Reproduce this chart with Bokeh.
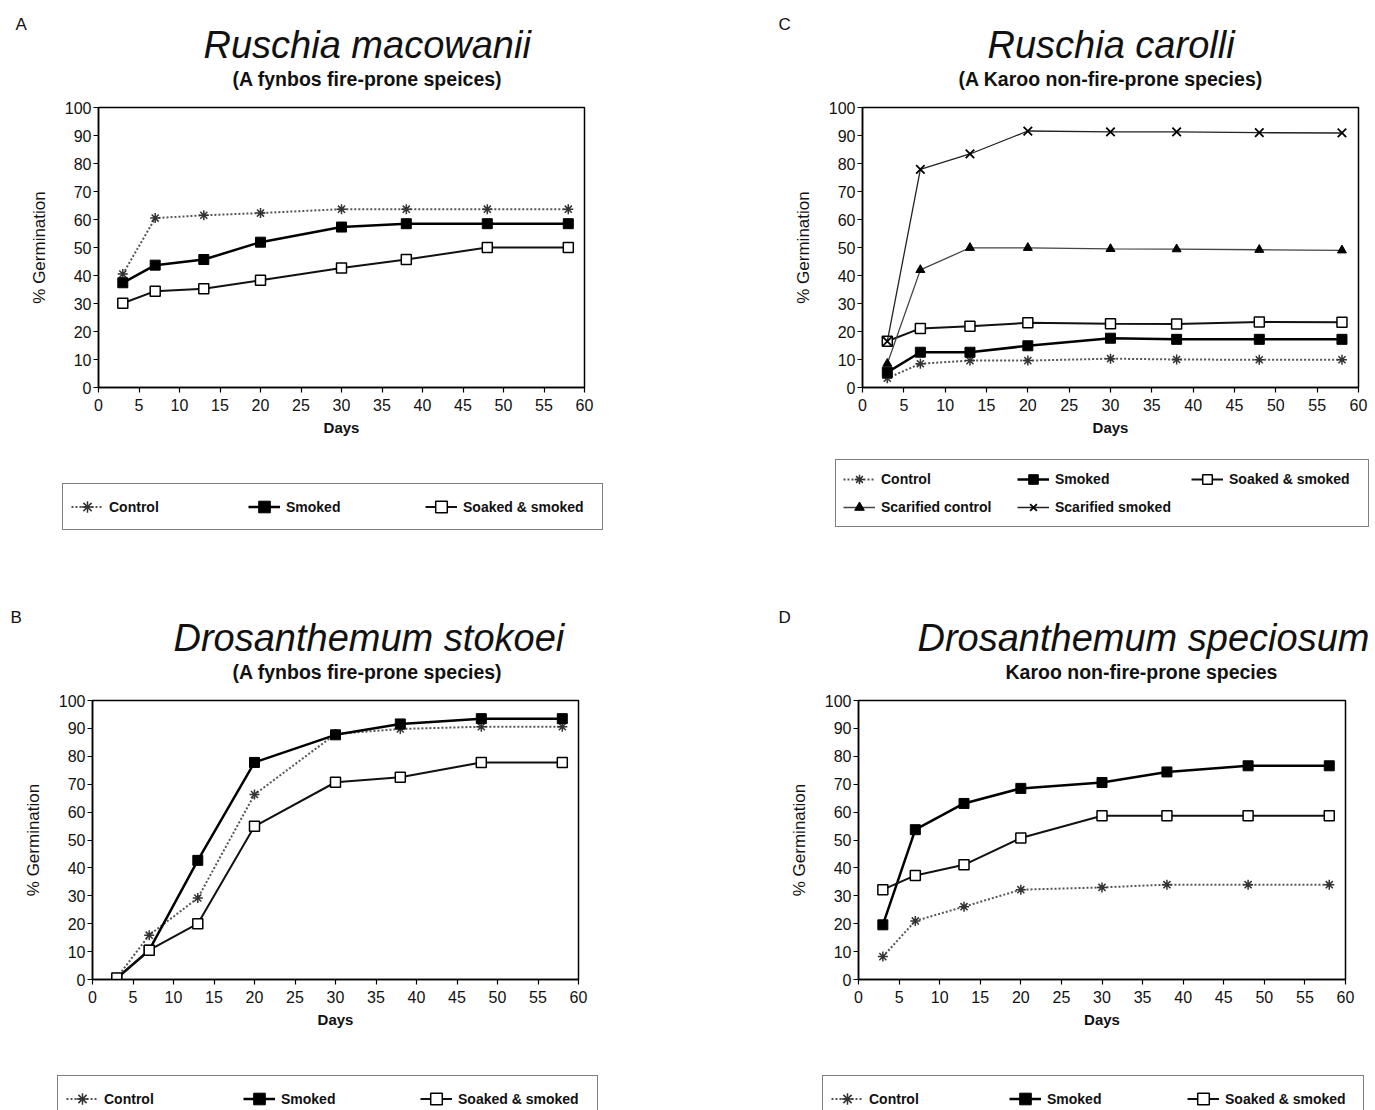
from bokeh.plotting import figure
from bokeh.models import Range1d, FixedTicker, Title, Legend, LegendItem
from bokeh.layouts import column, row
from bokeh.embed import file_html
from bokeh.resources import INLINE

days = [3, 7, 13, 20, 30, 38, 48, 58]

# Panel A - Ruschia macowanii
a_control = [40.5, 60.5, 61.5, 62.3, 63.7, 63.7, 63.7, 63.7]
a_smoked = [37.4, 43.7, 45.7, 51.9, 57.3, 58.5, 58.5, 58.5]
a_soaked = [30.1, 34.4, 35.3, 38.3, 42.7, 45.7, 50.0, 50.0]

# Panel C - Ruschia carolli
c_control = [3.3, 8.5, 9.6, 9.6, 10.3, 10.0, 9.9, 9.9]
c_smoked = [5.4, 12.6, 12.6, 14.9, 17.6, 17.2, 17.2, 17.2]
c_soaked = [16.5, 21.1, 21.9, 23.1, 22.8, 22.7, 23.4, 23.3]
c_scar_control = [8.5, 42.0, 49.9, 49.9, 49.5, 49.4, 49.2, 49.0]
c_scar_smoked = [16.5, 77.9, 83.4, 91.6, 91.3, 91.3, 91.0, 90.9]

# Panel B - Drosanthemum stokoei
b_control = [0.6, 15.9, 29.2, 66.3, 88.0, 89.8, 90.6, 90.6]
b_smoked = [0.4, 10.5, 42.7, 77.8, 87.7, 91.6, 93.5, 93.5]
b_soaked = [0.5, 10.5, 20.0, 54.9, 70.7, 72.5, 77.8, 77.8]

# Panel D - Drosanthemum speciosum
d_control = [8.2, 21.0, 26.1, 32.2, 33.0, 34.0, 34.0, 34.0]
d_smoked = [19.6, 53.7, 63.1, 68.5, 70.6, 74.4, 76.6, 76.6]
d_soaked = [32.2, 37.3, 41.1, 50.7, 58.7, 58.7, 58.7, 58.7]

x_ticks = [0, 5, 10, 15, 20, 25, 30, 35, 40, 45, 50, 55, 60]
y_ticks = [0, 10, 20, 30, 40, 50, 60, 70, 80, 90, 100]

FONT = "Liberation Sans"

STYLES = {
    "Control": dict(line=dict(line_color="#555555", line_width=2, line_dash="2 2"),
                    marker=dict(marker="asterisk", size=10, line_color="#333333", line_width=1.5)),
    "Smoked": dict(line=dict(line_color="black", line_width=2.5),
                   marker=dict(marker="square", size=10, fill_color="black", line_color="black", line_width=1)),
    "Soaked & smoked": dict(line=dict(line_color="#111111", line_width=2),
                            marker=dict(marker="square", size=10, fill_color="white", line_color="black", line_width=1.5)),
    "Scarified control": dict(line=dict(line_color="#444444", line_width=1.3),
                              marker=dict(marker="triangle", size=9, fill_color="black", line_color="black", line_width=1)),
    "Scarified smoked": dict(line=dict(line_color="#222222", line_width=1.3),
                             marker=dict(marker="x", size=12, line_color="black", line_width=1.8)),
}


def make_chart(letter, species, subtitle, series, width, height, bl, br, bt, bb,
               letter_off, species_off, sub_off):
    p = figure(width=width, height=height, output_backend="svg", toolbar_location=None,
               x_range=Range1d(0, 60), y_range=Range1d(0, 100),
               min_border_left=bl, min_border_right=br, min_border_top=bt, min_border_bottom=bb,
               title=None)
    p.grid.visible = False
    p.outline_line_color = "black"
    p.outline_line_width = 1.5
    p.background_fill_color = "white"
    p.border_fill_color = "white"

    for ax in (p.xaxis, p.yaxis):
        ax.axis_line_color = "black"
        ax.axis_line_width = 1.5
        ax.major_tick_line_color = "black"
        ax.major_tick_line_width = 1.2
        ax.major_tick_out = 5
        ax.major_tick_in = 0
        ax.minor_tick_line_color = None
        ax.major_label_text_font = FONT
        ax.major_label_text_font_size = "16px"
        ax.major_label_text_color = "#111111"
        ax.axis_label_text_font = FONT
        ax.axis_label_text_color = "#111111"
    p.xaxis.ticker = FixedTicker(ticks=x_ticks)
    p.yaxis.ticker = FixedTicker(ticks=y_ticks)
    p.xaxis.major_label_standoff = 6
    p.yaxis.major_label_standoff = 2
    p.xaxis.axis_label = "Days"
    p.xaxis.axis_label_text_font_style = "bold"
    p.xaxis.axis_label_text_font_size = "15px"
    p.xaxis.axis_label_standoff = 5
    p.yaxis.axis_label = "% Germination"
    p.yaxis.axis_label_text_font_style = "normal"
    p.yaxis.axis_label_text_font_size = "17px"
    p.yaxis.axis_label_standoff = 13

    for name, ys in series:
        st = STYLES[name]
        p.line(days, ys, **st["line"])
        p.scatter(days, ys, **st["marker"])

    p.add_layout(Title(text=subtitle, text_font=FONT, text_font_size="19.5px", text_font_style="bold",
                       align="left", offset=sub_off, standoff=36, text_color="#111111"), "above")
    p.add_layout(Title(text=species, text_font=FONT, text_font_size="38px", text_font_style="italic",
                       align="left", offset=species_off, standoff=-36, text_color="#111111"), "above")
    p.add_layout(Title(text=letter, text_font=FONT, text_font_size="17px", text_font_style="normal",
                       align="left", offset=letter_off, standoff=12, text_color="#111111"), "above")
    return p


def make_legend(names, width, height, loc, label_width, spacing, padding, item_h):
    # legend lives in its own strip; its renderers hold one off-range point each
    q = figure(width=width, height=height, output_backend="svg", toolbar_location=None,
               x_range=Range1d(0, 1), y_range=Range1d(0, 1), x_axis_type=None, y_axis_type=None,
               min_border_left=0, min_border_right=0, min_border_top=0, min_border_bottom=0,
               title=None)
    q.grid.visible = False
    q.outline_line_color = None
    q.background_fill_color = "white"
    q.border_fill_color = "white"
    items = []
    for name in names:
        st = STYLES[name]
        r1 = q.line([-5, -4], [-5, -5], **st["line"])
        r2 = q.scatter([-5], [-5], **st["marker"])
        items.append(LegendItem(label=name, renderers=[r1, r2]))
    leg = Legend(items=items, location=loc, orientation="horizontal", ncols=3,
                 label_text_font=FONT, label_text_font_size="14px", label_text_font_style="bold",
                 label_text_color="#111111",
                 glyph_width=32, glyph_height=item_h, label_height=item_h, label_width=label_width,
                 label_standoff=6, spacing=spacing, padding=padding, margin=0,
                 border_line_color="black", border_line_width=1.5,
                 background_fill_alpha=1.0)
    q.add_layout(leg, "center")
    return q


three = ["Control", "Smoked", "Soaked & smoked"]
five = ["Control", "Smoked", "Soaked & smoked", "Scarified control", "Scarified smoked"]

fA = make_chart("A", "Ruschia macowanii", "(A fynbos fire-prone speices)",
                [("Control", a_control), ("Smoked", a_smoked), ("Soaked & smoked", a_soaked)],
                688, 445, 98, 104, 107, 58, -83, 105, 134)
lA = make_legend(three, 688, 149, (62, 64), 131, 8, 8, 29)

fC = make_chart("C", "Ruschia carolli", "(A Karoo non-fire-prone species)",
                [("Control", c_control), ("Smoked", c_smoked), ("Soaked & smoked", c_soaked),
                 ("Scarified control", c_scar_control), ("Scarified smoked", c_scar_smoked)],
                687, 445, 174, 17, 107, 52, -84, 125, 96)
lC = make_legend(five, 687, 149, (835 - 688, 67), 132, 4, 7, 24)

fB = make_chart("B", "Drosanthemum stokoei", "(A fynbos fire-prone species)",
                [("Control", b_control), ("Smoked", b_smoked), ("Soaked & smoked", b_soaked)],
                688, 451, 92, 110, 106, 66, -82, 81, 140)
lB = make_legend(three, 688, 65, (57, -12), 131, 8, 8, 29)

fD = make_chart("D", "Drosanthemum speciosum", "Karoo non-fire-prone species",
                [("Control", d_control), ("Smoked", d_smoked), ("Soaked & smoked", d_soaked)],
                687, 451, 170, 30, 106, 66, -80, 59, 147)
lD = make_legend(three, 687, 65, (822 - 688, -12), 130, 10, 8, 29)

layout = column(row(fA, fC), row(lA, lC), row(fB, fD), row(lB, lD))
open("out.html", "w").write(file_html(layout, INLINE))
